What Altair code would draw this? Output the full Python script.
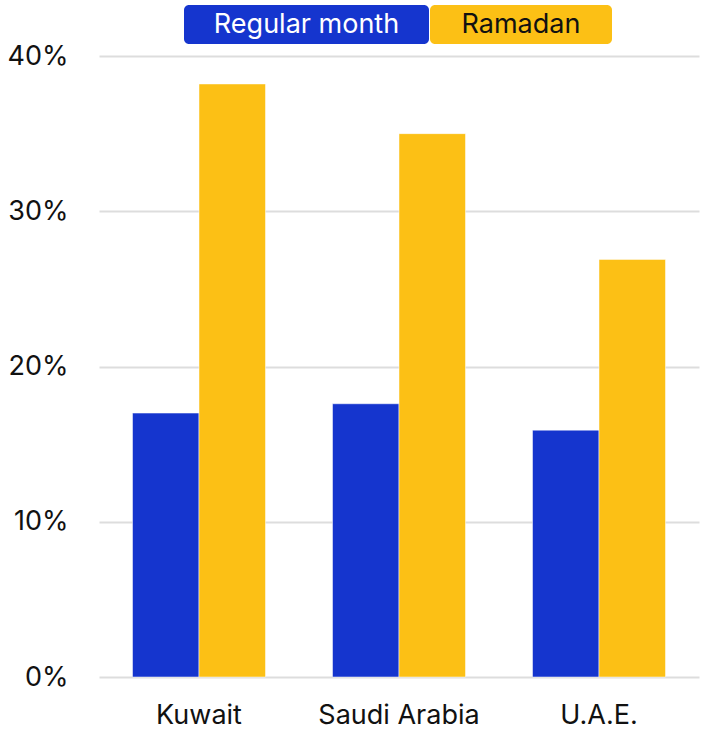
import altair as alt
import pandas as pd

countries = ["Kuwait", "Saudi Arabia", "U.A.E."]
series = ["Regular month", "Ramadan"]
regular = [17.0, 17.6, 15.9]
ramadan = [38.2, 35.0, 26.9]
y_ticks = [0, 10, 20, 30, 40]
colors = ["#1535CE", "#FCC015"]

FONT = "Inter"

rows = []
for c, r, m in zip(countries, regular, ramadan):
    rows.append({"country": c, "series": series[0], "value": r})
    rows.append({"country": c, "series": series[1], "value": m})
df = pd.DataFrame(rows)

bars = alt.Chart(df).mark_bar(stroke="white", strokeWidth=0.5).encode(
    x=alt.X("country:N", sort=countries,
            scale=alt.Scale(paddingInner=0.335, paddingOuter=0.1675),
            axis=alt.Axis(title=None, labelAngle=0, labelFontSize=27, labelFont=FONT,
                          labelColor="#111111", labelPadding=25, ticks=False, domain=False,
                          grid=False, labelBaseline="top")),
    xOffset=alt.XOffset("series:N", sort=series),
    y=alt.Y("value:Q", scale=alt.Scale(domain=[0, 40], nice=False),
            axis=alt.Axis(title=None, values=y_ticks, labelExpr="datum.value + '%'",
                          labelFontSize=27, labelFont=FONT, labelColor="#111111",
                          labelPadding=31, ticks=False, domain=False,
                          gridColor="#DDDDDD", gridWidth=2)),
    color=alt.Color("series:N", sort=series,
                    scale=alt.Scale(domain=series, range=colors), legend=None),
)

leg0 = pd.DataFrame({"s": [series[0]]})
leg1 = pd.DataFrame({"s": [series[1]]})

box0 = alt.Chart(leg0).mark_rect(color=colors[0], cornerRadius=5).encode(
    x=alt.value(85), x2=alt.value(330), y=alt.value(-51), y2=alt.value(-12))
box1 = alt.Chart(leg1).mark_rect(color=colors[1], cornerRadius=5).encode(
    x=alt.value(331), x2=alt.value(513), y=alt.value(-51), y2=alt.value(-12))
txt0 = alt.Chart(leg0).mark_text(font=FONT, fontSize=27, color="white",
                                 align="center", baseline="middle").encode(
    x=alt.value(207.5), y=alt.value(-31), text="s:N")
txt1 = alt.Chart(leg1).mark_text(font=FONT, fontSize=27, color="#111111",
                                 align="center", baseline="middle").encode(
    x=alt.value(422), y=alt.value(-31), text="s:N")

chart = alt.layer(bars, box0, box1, txt0, txt1).properties(
    width=600, height=621,
    background="white",
    autosize=alt.AutoSizeParams(type="none"),
    padding={"left": 99, "top": 56, "right": 3, "bottom": 63},
).configure_view(strokeWidth=0, stroke=None)

chart.save("out.html", embed_options={"renderer": "svg", "actions": False})
